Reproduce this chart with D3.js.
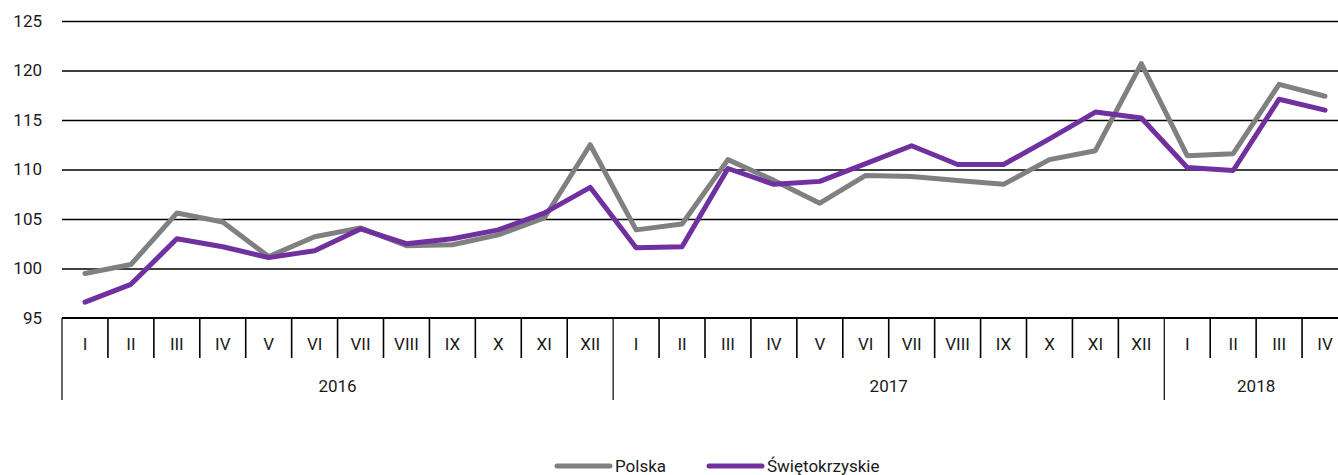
<!DOCTYPE html>
<html>
<head>
<meta charset="utf-8">
<script src="https://cdn.jsdelivr.net/npm/d3@7"></script>
<style>
  body { margin: 0; background: #fff; }
  svg { display: block; font-family: Roboto, "Noto Sans", sans-serif; }
  text { fill: #1a1a1a; }
</style>
</head>
<body>
<svg id="chart" width="1338" height="475"></svg>
<script>
// dane
let miesiace = ["I","II","III","IV","V","VI","VII","VIII","IX","X","XI","XII",
                "I","II","III","IV","V","VI","VII","VIII","IX","X","XI","XII",
                "I","II","III","IV"];
let lata = [{ rok: "2016", od: 0, ile: 12 }, { rok: "2017", od: 12, ile: 12 }, { rok: "2018", od: 24, ile: 4 }];
let polska = [99.5, 100.4, 105.6, 104.7, 101.2, 103.2, 104.1, 102.3, 102.4, 103.4, 105.1, 112.5,
              103.9, 104.5, 111.0, 108.9, 106.6, 109.4, 109.3, 108.9, 108.5, 111.0, 111.9, 120.7,
              111.4, 111.6, 118.6, 117.4];
let swietokrzyskie = [96.6, 98.4, 103.0, 102.2, 101.1, 101.8, 104.0, 102.5, 103.0, 103.9, 105.6, 108.2,
                      102.1, 102.2, 110.1, 108.5, 108.8, 110.6, 112.4, 110.5, 110.5, 113.1, 115.8, 115.2,
                      110.2, 109.9, 117.1, 116.0];
let yTicks = [95, 100, 105, 110, 115, 120, 125];

let serie = [
    { nazwa: "Polska", wartosci: polska, kolor: "#808080" },
    { nazwa: "Świętokrzyskie", wartosci: swietokrzyskie, kolor: "#7030a0" }
];

let svg = d3.select("#chart");
let lewo = 62, prawo = 1348; // wykres jest ucięty z prawej strony
let gora = 21, dol = 318;
let rozmiar = "17px";

let x = d3.scaleBand()
    .domain(d3.range(miesiace.length))
    .range([lewo, prawo]);

let y = d3.scaleLinear()
    .domain([95, 125])
    .range([dol, gora]);

// linie siatki + etykiety osi Y
let osY = svg.append("g")
    .attr("transform", `translate(${lewo},0)`)
    .call(d3.axisLeft(y).tickValues(yTicks).tickSize(-(prawo - lewo)).tickPadding(20));
osY.select(".domain").remove();
osY.selectAll(".tick line")
    .attr("stroke", "#000")
    .attr("stroke-width", 1.3)
    .attr("opacity", (d) => d === 95 ? 0 : 1);
osY.selectAll(".tick text")
    .attr("font-size", rozmiar)
    .attr("font-family", "Roboto, sans-serif")
    .attr("fill", "#1a1a1a");

// os X
svg.append("line")
    .attr("x1", lewo).attr("x2", prawo)
    .attr("y1", y(95)).attr("y2", y(95))
    .attr("stroke", "#000").attr("stroke-width", 2);

let granice = d3.range(miesiace.length + 1);
let poczatkiLat = lata.map((d) => d.od).concat([miesiace.length]);

svg.selectAll(".kreska")
    .data(granice)
    .join("line")
    .attr("class", "kreska")
    .attr("x1", (d) => lewo + d * x.bandwidth())
    .attr("x2", (d) => lewo + d * x.bandwidth())
    .attr("y1", y(95))
    .attr("y2", (d) => poczatkiLat.includes(d) ? 400 : 358)
    .attr("stroke", "#000")
    .attr("stroke-width", (d) => poczatkiLat.includes(d) ? 1.2 : 1.6);

svg.selectAll(".miesiac")
    .data(miesiace)
    .join("text")
    .attr("class", "miesiac")
    .attr("x", (d, i) => x(i) + x.bandwidth() / 2)
    .attr("y", 350)
    .attr("text-anchor", "middle")
    .attr("font-size", rozmiar)
    .text((d) => d);

svg.selectAll(".rok")
    .data(lata)
    .join("text")
    .attr("class", "rok")
    .attr("x", (d) => x(d.od) + d.ile * x.bandwidth() / 2)
    .attr("y", 392)
    .attr("text-anchor", "middle")
    .attr("font-size", rozmiar)
    .text((d) => d.rok);

// linie danych
let linia = d3.line()
    .x((d, i) => x(i) + x.bandwidth() / 2)
    .y((d) => y(d));

svg.selectAll(".seria")
    .data(serie)
    .join("path")
    .attr("class", "seria")
    .attr("d", (d) => linia(d.wartosci))
    .attr("fill", "none")
    .attr("stroke", (d) => d.kolor)
    .attr("stroke-width", 5)
    .attr("stroke-linejoin", "round")
    .attr("stroke-linecap", "round");

// legenda
let legenda = svg.selectAll(".legenda")
    .data(serie)
    .join("g")
    .attr("class", "legenda")
    .attr("transform", (d, i) => `translate(${[557, 709][i]},466)`);

legenda.append("line")
    .attr("x1", 0).attr("x2", 53)
    .attr("stroke", (d) => d.kolor)
    .attr("stroke-width", 5)
    .attr("stroke-linecap", "round");

legenda.append("text")
    .attr("x", 58)
    .attr("y", 6)
    .attr("font-size", rozmiar)
    .text((d) => d.nazwa);
</script>
</body>
</html>
